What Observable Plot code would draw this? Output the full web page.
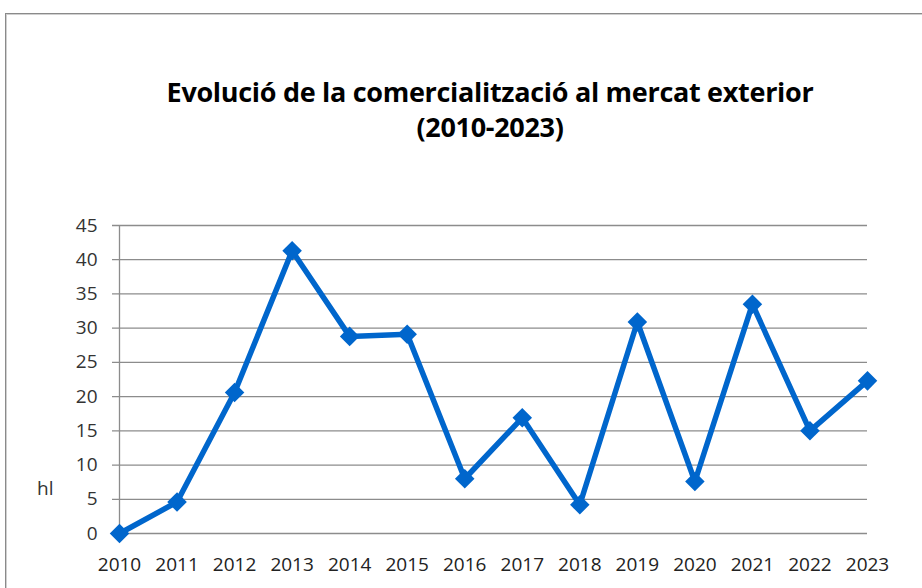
<!DOCTYPE html>
<html>
<head>
<meta charset="utf-8">
<script src="https://cdn.jsdelivr.net/npm/d3@7"></script>
<script src="https://cdn.jsdelivr.net/npm/@observablehq/plot@0.6"></script>
<style>
  html, body { margin: 0; padding: 0; background: #fff; }
  #wrap { position: relative; width: 922px; height: 588px; overflow: hidden; font-family: "Open Sans", "Noto Sans", sans-serif; }
  #frame { position: absolute; left: 5px; top: 13px; width: 1000px; height: 700px; border: 1px solid #8a8a8a; box-shadow: inset 1px 1px 0 #d0d0d0; }
  #title { position: absolute; left: 0; width: 980px; top: 74px; text-align: center; font-weight: 700; font-size: 27px; line-height: 35px; color: #000; letter-spacing: -0.3px; }
  #ylabel { position: absolute; left: 37px; top: 476px; font-size: 19px; line-height: 24px; color: #333; }
  #chart { position: absolute; left: 0; top: 0; }
</style>
</head>
<body>
<div id="wrap">
  <div id="frame"></div>
  <div id="title">Evolució de la comercialització al mercat exterior<br>(2010-2023)</div>
  <div id="ylabel">hl</div>
  <div id="chart"></div>
</div>
<script>
const years = [2010, 2011, 2012, 2013, 2014, 2015, 2016, 2017, 2018, 2019, 2020, 2021, 2022, 2023];
const values = [0, 4.6, 20.6, 41.3, 28.8, 29.1, 8.0, 16.9, 4.2, 30.9, 7.6, 33.5, 15.0, 22.3];
const yTicks = [0, 5, 10, 15, 20, 25, 30, 35, 40, 45];

const data = years.map((y, i) => ({year: y, value: values[i]}));

const plot = Plot.plot({
  width: 922,
  height: 588,
  marginTop: 225,
  marginBottom: 55,
  marginLeft: 119,
  marginRight: 55,
  style: {background: "transparent", fontFamily: "'Open Sans', 'Noto Sans', sans-serif", fontSize: "19px", color: "#333", overflow: "visible"},
  x: {type: "linear", domain: [years[0], years[years.length - 1]]},
  y: {domain: [0, 45]},
  marks: [
    Plot.gridY(yTicks, {stroke: "#8c8c8c", strokeOpacity: 1, strokeWidth: 1.3, x1: years[0], x2: years[years.length - 1], insetLeft: -7}),
    Plot.ruleX([years[0]], {y1: 0, y2: 45, stroke: "#8c8c8c", strokeWidth: 1.3}),
    Plot.axisY({ticks: yTicks, tickSize: 0, tickPadding: 22, label: null, fill: "#333", fontSize: 19}),
    Plot.axisX({ticks: years, tickFormat: "d", tickSize: 0, tickPadding: 24, label: null, fill: "#222", fontSize: 19}),
    Plot.line(data, {x: "year", y: "value", stroke: "#0066cc", strokeWidth: 5.5, strokeLinejoin: "miter"}),
    Plot.dot(data, {x: "year", y: "value", symbol: "diamond2", r: 8.8, fill: "#0066cc", stroke: "none"})
  ]
});
document.getElementById("chart").appendChild(plot);
</script>
</body>
</html>
